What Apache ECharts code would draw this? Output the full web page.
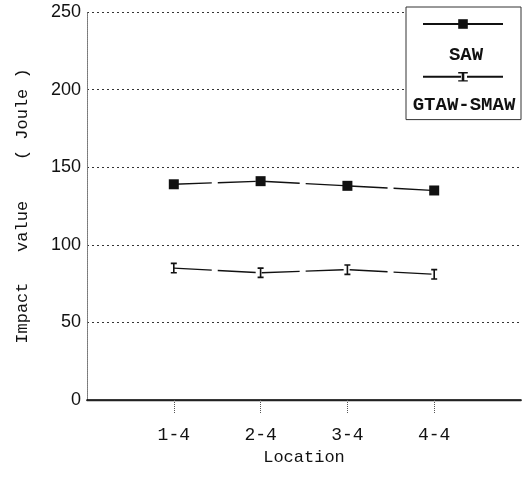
<!DOCTYPE html>
<html>
<head>
<meta charset="utf-8">
<script src="https://cdn.jsdelivr.net/npm/echarts@6/dist/echarts.min.js"></script>
<style>
	html, body { margin: 0; padding: 0; background: #fff; }
	#chart { width: 522px; height: 481px; }
</style>
</head>
<body>
<div id="chart"></div>
<script>
var locations = ['1-4', '2-4', '3-4', '4-4'];
var locationPos = [1, 2, 3, 4];
var sawValues = [139, 141, 138, 135];
var gtawValues = [85, 82, 84, 81];
var yTicks = [0, 50, 100, 150, 200, 250];

var toPoints = function(vals){
	return vals.map(function(v, i){ return [locationPos[i], v]; });
};

// small error-bar like marker for the GTAW-SMAW series
var ibeam = 'path://M0,0 L6,0 L6,1.5 L3.8,1.5 L3.8,8.5 L6,8.5 L6,10 L0,10 L0,8.5 L2.2,8.5 L2.2,1.5 L0,1.5 Z';

var chart = echarts.init(document.getElementById('chart'));

chart.setOption({
	backgroundColor: '#fff',
	animation: false,
	grid: { left: 87, right: 1, top: 12, bottom: 81 },
	xAxis: [{
		type: 'value',
		min: 0, max: 5, interval: 1,
		name: 'Location',
		nameLocation: 'middle',
		nameGap: 47,
		nameTextStyle: { fontFamily: 'Liberation Mono', fontSize: 17, color: '#111' },
		axisLine: { show: true, lineStyle: { color: '#000', width: 1.5 } },
		axisTick: { show: true, length: 14, customValues: locationPos, lineStyle: { color: '#555', type: 'dotted' } },
		axisLabel: {
			margin: 26,
			customValues: locationPos,
			fontFamily: 'Liberation Mono', fontSize: 18, color: '#111',
			formatter: function(v){
				var idx = locationPos.indexOf(v);
				return idx >= 0 ? locations[idx] : '';
			}
		},
		splitLine: { show: false }
	}, {
		type: 'value',
		position: 'top',
		min: 0, max: 5,
		axisLine: { show: true, lineStyle: { color: '#222', width: 1.3 } },
		axisTick: { show: false },
		axisLabel: { show: false },
		splitLine: { show: false }
	}],
	yAxis: [{
		type: 'value',
		min: 0, max: 250, interval: 50,
		name: 'Impact   value    ( Joule )',
		nameLocation: 'middle',
		nameGap: 56,
		nameTextStyle: { fontFamily: 'Liberation Mono', fontSize: 17, color: '#111' },
		axisLine: { show: true, lineStyle: { color: '#777', type: 'dotted' } },
		axisTick: { show: false },
		axisLabel: {
			margin: 6,
			fontFamily: 'Liberation Sans', fontSize: 18, color: '#111',
			formatter: function(v){ return yTicks.indexOf(v) >= 0 ? String(v) : ''; }
		},
		splitLine: { show: true, lineStyle: { color: '#333', type: [2, 3], width: 1 } }
	}, {
		type: 'value',
		position: 'right',
		min: 0, max: 250,
		axisLine: { show: true, lineStyle: { color: '#777', type: 'dotted' } },
		axisTick: { show: false },
		axisLabel: { show: false },
		splitLine: { show: false }
	}],
	legend: {
		orient: 'vertical',
		right: 1,
		top: 7,
		padding: [11, 17, 38, 16],
		itemWidth: 80,
		itemHeight: 12,
		itemGap: 42,
		borderColor: '#333',
		borderWidth: 1,
		backgroundColor: '#fff',
		formatter: function(){ return ''; },
		textStyle: { fontSize: 1 },
		data: ['SAW', 'GTAW-SMAW']
	},
	graphic: [{
		type: 'text', x: 466, y: 55, z: 100, zlevel: 1,
		style: { text: 'SAW', font: 'bold 19px "Liberation Mono"', fill: '#111', align: 'center', verticalAlign: 'middle' }
	}, {
		type: 'text', x: 464, y: 105, z: 100, zlevel: 1,
		style: { text: 'GTAW-SMAW', font: 'bold 19px "Liberation Mono"', fill: '#111', align: 'center', verticalAlign: 'middle' }
	}],
	series: [{
		name: 'SAW',
		type: 'line',
		data: toPoints(sawValues),
		symbol: 'rect',
		symbolSize: 10,
		itemStyle: { color: '#111' },
		lineStyle: { color: '#111', width: 1.4, type: [38, 6] }
	}, {
		name: 'GTAW-SMAW',
		type: 'line',
		data: toPoints(gtawValues),
		symbol: ibeam,
		symbolSize: [6, 11],
		itemStyle: { color: '#111' },
		lineStyle: { color: '#111', width: 1.4, type: [38, 6] }
	}]
});
</script>
</body>
</html>
